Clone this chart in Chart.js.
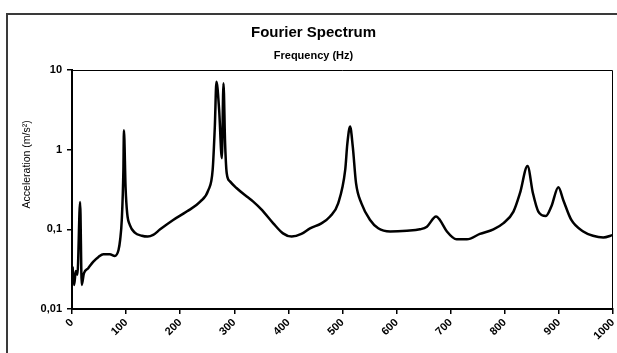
<!DOCTYPE html>
<html>
<head>
<meta charset="utf-8">
<script src="https://cdn.jsdelivr.net/npm/chart.js@4/dist/chart.umd.min.js"></script>
<style>
   body { margin: 0; background: #fff; }
   #wrap { position: relative; width: 617px; height: 353px; overflow: hidden; }
   #frame {
      position: absolute; left: 6px; top: 13px; width: 700px; height: 400px;
      border: 2px solid #3a3a3a;
   }
   #chart { position: absolute; left: 0; top: 0; }
</style>
</head>
<body>
<div id="wrap">
   <div id="frame"></div>
   <canvas id="chart" width="617" height="353"></canvas>
</div>
<script>
// frequency (Hz) and spectrum amplitude (m/s²)
const freq = [
   1, 4, 7, 10, 15, 18, 22, 30, 39, 49, 58, 70, 79, 86, 89, 92, 95, 96, 99,
   102, 107, 116, 129, 140, 150, 163, 187, 212, 237, 252, 260, 264, 267, 272,
   277, 280, 283, 286, 292, 304, 323, 335, 350, 372, 390, 406, 424, 440,
   461, 477, 492, 505, 509, 514, 519, 525, 535, 551, 566, 588, 619, 643, 656,
   673, 680, 693, 711, 730, 754, 779, 797, 816, 828, 842, 852, 862, 876, 886,
   899, 908, 923, 945, 963, 982, 1000,
];
const accel = [
   0.034, 0.02, 0.03, 0.027, 0.22, 0.02, 0.028, 0.0325, 0.039, 0.045, 0.0486,
   0.0486, 0.0464, 0.055, 0.074, 0.131, 0.556, 1.75, 0.34,
   0.159, 0.113, 0.091, 0.083, 0.081, 0.085, 0.1, 0.131, 0.167, 0.223, 0.31,
   0.556, 1.95, 7.1, 3.15,
   0.78, 6.8, 1.2, 0.506, 0.4, 0.33, 0.258, 0.223, 0.178, 0.119, 0.089,
   0.081, 0.0875, 0.103,
   0.119, 0.145, 0.212, 0.556, 1.2, 1.95, 1.09, 0.38, 0.212, 0.131, 0.103,
   0.094, 0.096, 0.1, 0.108,
   0.145, 0.131, 0.094, 0.075, 0.075, 0.0875, 0.1, 0.119, 0.167, 0.284, 0.624,
   0.284, 0.167, 0.147, 0.193,
   0.337, 0.234, 0.131, 0.094, 0.083, 0.079, 0.085,
];

// axis ticks
const xTicks = [0, 100, 200, 300, 400, 500, 600, 700, 800, 900, 1000];
const xTickLabels = ["0", "100", "200", "300", "400", "500", "600", "700", "800", "900", "1000"];
const yTicks = [0.01, 0.1, 1, 10];
const yTickLabels = ["0,01", "0,1", "1", "10"];

const fontFamily = "'Liberation Sans', Arial, sans-serif";

// box round the plot area and the y title, placed a bit above centre
const framePlugin = {
   id: "plotFrame",
   afterDraw: (chart) => {
      const { ctx, chartArea } = chart;
      ctx.save();
      ctx.strokeStyle = "#000";
      ctx.lineWidth = 1;
      ctx.beginPath();
      ctx.moveTo(chartArea.left, chartArea.top + 0.5);
      ctx.lineTo(chartArea.right - 0.5, chartArea.top + 0.5);
      ctx.lineTo(chartArea.right - 0.5, chartArea.bottom);
      ctx.stroke();

      ctx.translate(27, chartArea.top + (chartArea.bottom - chartArea.top) * 0.395);
      ctx.rotate(-Math.PI / 2);
      ctx.font = "10.5px " + fontFamily;
      ctx.fillStyle = "#000";
      ctx.textAlign = "center";
      ctx.textBaseline = "middle";
      ctx.fillText("Acceleration (m/s²)", 0, 0);
      ctx.restore();
   },
};

const init = () => {
   const points = freq.map((f, i) => ({ x: f, y: accel[i] }));

   const config = {
      type: "line",
      data: {
         datasets: [
            {
               data: points,
               borderColor: "#000",
               borderWidth: 2.5,
               pointRadius: 0,
               cubicInterpolationMode: "monotone",
            },
         ],
      },
      options: {
         responsive: false,
         animation: false,
         layout: { padding: { left: 14, right: 4, top: 0, bottom: 0 } },
         plugins: {
            legend: { display: false },
            tooltip: { enabled: false },
            title: {
               display: true,
               text: "Fourier Spectrum",
               color: "#000",
               font: { family: fontFamily, size: 15, weight: "bold" },
               padding: { top: 24, bottom: 3 },
            },
            subtitle: {
               display: true,
               text: "Frequency (Hz)",
               color: "#000",
               font: { family: fontFamily, size: 11, weight: "bold" },
               padding: { top: 4, bottom: 7.8 },
            },
         },
         scales: {
            x: {
               type: "linear",
               min: 0,
               max: 1000,
               afterBuildTicks: (scale) => {
                  scale.ticks = xTicks.map((v) => ({ value: v }));
               },
               afterFit: (scale) => {
                  scale.height = 44;
                  scale.paddingLeft = 0;
                  scale.paddingRight = 0;
               },
               ticks: {
                  autoSkip: false,
                  minRotation: 45,
                  maxRotation: 45,
                  padding: 2,
                  color: "#000",
                  font: { family: fontFamily, size: 11, weight: "bold" },
                  callback: (value) => xTickLabels[xTicks.indexOf(value)],
               },
               grid: {
                  drawOnChartArea: false,
                  color: "#000",
                  lineWidth: 1.5,
                  tickLength: 5,
               },
               border: { color: "#000", width: 2 },
            },
            y: {
               type: "logarithmic",
               min: 0.01,
               max: 10,
               afterBuildTicks: (scale) => {
                  scale.ticks = yTicks.map((v) => ({ value: v }));
               },
               afterFit: (scale) => {
                  scale.width = 58;
               },
               ticks: {
                  padding: 5,
                  color: "#000",
                  font: { family: fontFamily, size: 11, weight: "bold" },
                  callback: (value) => yTickLabels[yTicks.indexOf(value)],
               },
               grid: {
                  drawOnChartArea: false,
                  color: "#000",
                  lineWidth: 1.5,
                  tickLength: 5,
               },
               border: { color: "#000", width: 2 },
            },
         },
      },
      plugins: [framePlugin],
   };

   new Chart(document.getElementById("chart"), config);
};

init();
</script>
</body>
</html>
